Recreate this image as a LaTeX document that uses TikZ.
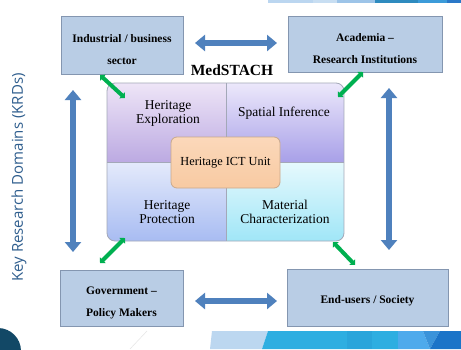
\documentclass[tikz,border=0pt]{standalone}
\usepackage{fontspec}
\setmainfont{Liberation Serif}
\newfontfamily\sidefont{Open Sans}
\usetikzlibrary{arrows.meta}
\definecolor{boxfill}{HTML}{B9CDE5}
\definecolor{boxline}{HTML}{8496B0}
\definecolor{barrow}{HTML}{4F81BD}
\definecolor{garrow}{HTML}{00B050}
\definecolor{sidetext}{HTML}{2F5E8E}
\definecolor{quadline}{HTML}{A3A8B8}
\definecolor{peach}{HTML}{F9D0AC}
\definecolor{peachline}{HTML}{C9A98C}
\tikzset{
  outerbox/.style={draw=boxline, fill=boxfill, line width=0.8pt},
  boxtext/.style={font=\bfseries\fontsize{11.5}{22}\selectfont, align=center, inner sep=0pt},
  quadtext/.style={font=\fontsize{13.5}{14}\selectfont, align=center, inner sep=0pt},
  bluearrow/.style={draw=barrow, line width=6.5pt, {Triangle[length=10pt,width=16pt]}-{Triangle[length=10pt,width=16pt]}},
  greenarrow/.style={draw=garrow, line width=4pt, {Triangle[length=4pt,width=8pt]}-{Triangle[length=4pt,width=8pt]}},
}
\begin{document}
\begin{tikzpicture}[x=1pt,y=-1pt]
\useasboundingbox (0,0) rectangle (461,349);
\fill[white] (0,0) rectangle (461,349);
% slide decorations
\fill[fill={rgb,255:red,187;green,214;blue,240}] (268,0) rectangle (313,3);
\fill[fill={rgb,255:red,200;green,222;blue,242}] (313,0) rectangle (337,3);
\fill[fill={rgb,255:red,157;green,196;blue,232}] (337,0) rectangle (375,3);
\fill[fill={rgb,255:red,46;green,139;blue,191}] (375,0) rectangle (418,3);
\fill[fill={rgb,255:red,60;green,155;blue,217}] (418,0) rectangle (447,3);
\fill[fill={rgb,255:red,42;green,120;blue,200}] (447,0) rectangle (461,3);
\fill[fill={rgb,255:red,188;green,215;blue,240}] (212,331) -- (268,331) -- (262,349) -- (210,349) -- cycle;
\fill[fill={rgb,255:red,46;green,174;blue,225}] (268,331) -- (398,331) -- (398,349) -- (262,349) -- cycle;
\fill[fill={rgb,255:red,42;green,165;blue,219}] (347,331) rectangle (372,349);
\fill[fill={rgb,255:red,78;green,170;blue,236}] (398,331) -- (423,331) -- (430,349) -- (398,349) -- cycle;
\fill[fill={rgb,255:red,58;green,147;blue,218}] (423,331) -- (440,331) -- (430,349) -- cycle;
\fill[fill={rgb,255:red,27;green,116;blue,200}] (440,331) -- (461,331) -- (461,349) -- (430,349) -- cycle;
\fill[fill={rgb,255:red,18;green,72;blue,102}] (-2,351) circle (23);
\draw[gray!20, line width=0.5pt] (130,349) -- (147,331);
% side title
\node[font=\sidefont\fontsize{15}{17}\selectfont, text=sidetext, rotate=90, inner sep=0pt] (side) at (19,177.5) {Key Research Domains (KRDs)};
% outer boxes
\node[outerbox, minimum width=122pt, minimum height=58pt, inner sep=0pt] (ind) at (122,45) {};
\node[boxtext] (indt) at (122,50) {Industrial / business\\sector};
\node[outerbox, minimum width=154pt, minimum height=56pt, inner sep=0pt] (aca) at (365,44) {};
\node[boxtext] (acat) at (365,49) {Academia --\\Research Institutions};
\node[outerbox, minimum width=123pt, minimum height=56pt, inner sep=0pt] (gov) at (121.5,298) {};
\node[boxtext] (govt) at (121.5,303) {Government --\\Policy Makers};
\node[outerbox, minimum width=161pt, minimum height=57pt, inner sep=0pt] (end) at (367.5,297.5) {};
\node[boxtext] (endt) at (367.5,301) {End-users / Society};
% MedSTACH label
\node[font=\bfseries\fontsize{15.5}{17}\selectfont, inner sep=0pt] (med) at (232,70) {MedSTACH};
% matrix
\begin{scope}
\clip[rounded corners=8pt] (107,83) rectangle (344,241);
\shade[top color={rgb,255:red,238;green,229;blue,247}, bottom color={rgb,255:red,188;green,170;blue,226}] (107,83) rectangle (226,162);
\shade[top color={rgb,255:red,236;green,232;blue,251}, bottom color={rgb,255:red,168;green,160;blue,232}] (226,83) rectangle (344,162);
\shade[top color={rgb,255:red,228;green,234;blue,251}, bottom color={rgb,255:red,168;green,188;blue,242}] (107,162) rectangle (226,241);
\shade[top color={rgb,255:red,230;green,249;blue,253}, bottom color={rgb,255:red,160;green,230;blue,247}] (226,162) rectangle (344,241);
\end{scope}
\draw[quadline, line width=0.8pt, rounded corners=8pt] (107,83) rectangle (344,241);
\draw[quadline, line width=0.8pt] (226,83) -- (226,241);
\draw[quadline, line width=0.8pt] (107,162) -- (344,162);
\coordinate (mtl) at (125,98);
\coordinate (mtr) at (338,97);
\coordinate (mbl) at (125,238);
\coordinate (mbr) at (333,242);
\node[quadtext] (qexp) at (168,113) {Heritage\\Exploration};
\node[quadtext] (qspa) at (284,113) {Spatial Inference};
\node[quadtext] (qpro) at (167,212) {Heritage\\Protection};
\node[quadtext] (qmat) at (285,212) {Material\\Characterization};
\node[draw=peachline, line width=0.8pt, rounded corners=6pt, top color={rgb,255:red,251;green,216;blue,186}, bottom color={rgb,255:red,248;green,202;blue,162}, minimum width=109pt, minimum height=51pt, inner sep=0pt, font=\fontsize{12.3}{14}\selectfont] (ict) at (225.5,162.5) {Heritage ICT Unit};
% blue arrows
\coordinate (ta) at (195,43); \coordinate (tb) at (277,43);
\coordinate (ba) at (195,301); \coordinate (bb) at (277,301);
\coordinate (la) at (73,90); \coordinate (lb) at (73,252);
\coordinate (ra) at (389,88); \coordinate (rb) at (389,250);
\draw[bluearrow] (ta) -- (tb);
\draw[bluearrow] (ba) -- (bb);
\draw[bluearrow] (la) -- (lb);
\draw[bluearrow] (ra) -- (rb);
% green arrows
\coordinate (gtl) at (100,75);
\coordinate (gtr) at (363,72);
\coordinate (gbl) at (100,263);
\coordinate (gbr) at (355,265);
\draw[greenarrow] (gtl) -- (mtl);
\draw[greenarrow] (gtr) -- (mtr);
\draw[greenarrow] (gbl) -- (mbl);
\draw[greenarrow] (gbr) -- (mbr);
\end{tikzpicture}
\end{document}
